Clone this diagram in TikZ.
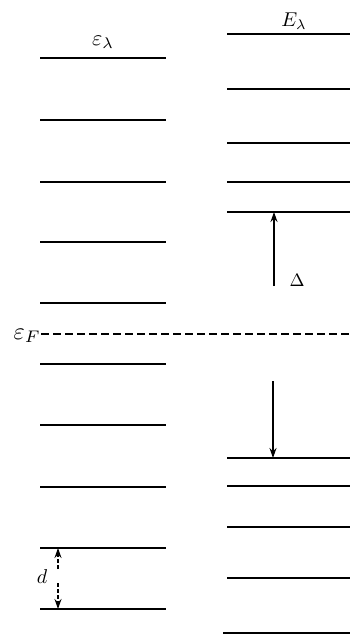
\documentclass[tikz,border=0pt]{standalone}
\usepackage{graphicx}
\usetikzlibrary{arrows.meta}
\newcommand{\bigtxt}[2]{\scalebox{#1}{#2}}
\begin{document}
\begin{tikzpicture}[x=1pt,y=-1pt,
  level/.style={line width=2.8pt},
  fermi/.style={line width=1.8pt,dash pattern=on 8pt off 4pt},
  arr/.style={line width=1.3pt,-{Stealth[length=10pt,width=7pt]}},
  lbl/.style={inner sep=0pt}]
\useasboundingbox (0,0) rectangle (350,636);
% left levels
\foreach \y [count=\i] in {58,120,182,242,303,364,425,487,548,609}
  \draw[level] (40,\y) coordinate (L\i a) -- (166,\y) coordinate (L\i b);
% right levels
\foreach \y [count=\i] in {34,89,143,182,212,458,486,527,578}
  \draw[level] (227,\y) coordinate (R\i a) -- (350,\y) coordinate (R\i b);
\draw[level] (223,633) coordinate (R10a) -- (350,633) coordinate (R10b);
% Fermi level
\draw[fermi] (41,334) -- (350,334);
% labels
\node[lbl] (elam) at (103,42) {\bigtxt{2.2}{$\varepsilon_{\lambda}$}};
\node[lbl] (Elam) at (294,21) {\bigtxt{2.0}{$E_{\lambda}$}};
\node[lbl,anchor=east] (eF) at (41,336) {\bigtxt{2.4}{$\varepsilon_{F}$}};
\node[lbl] (Delta) at (297,280) {\bigtxt{1.8}{$\Delta$}};
\node[lbl] (dl) at (42,577) {\bigtxt{2.0}{$d$}};
% gap arrows
\coordinate (upS) at (274,286);
\coordinate (upT) at (274,212);
\draw[arr] (upS) -- (upT);
\coordinate (dnS) at (273,381);
\coordinate (dnT) at (273,458);
\draw[arr] (dnS) -- (dnT);
% d arrows
\coordinate (dU1) at (58,569);
\coordinate (dU2) at (58,548);
\coordinate (dD1) at (58,583);
\coordinate (dD2) at (58,609);
\draw[arr,dash pattern=on 4pt off 2pt] (dU1) -- (dU2);
\draw[arr,dash pattern=on 4pt off 2pt] (dD1) -- (dD2);
\end{tikzpicture}
\end{document}
